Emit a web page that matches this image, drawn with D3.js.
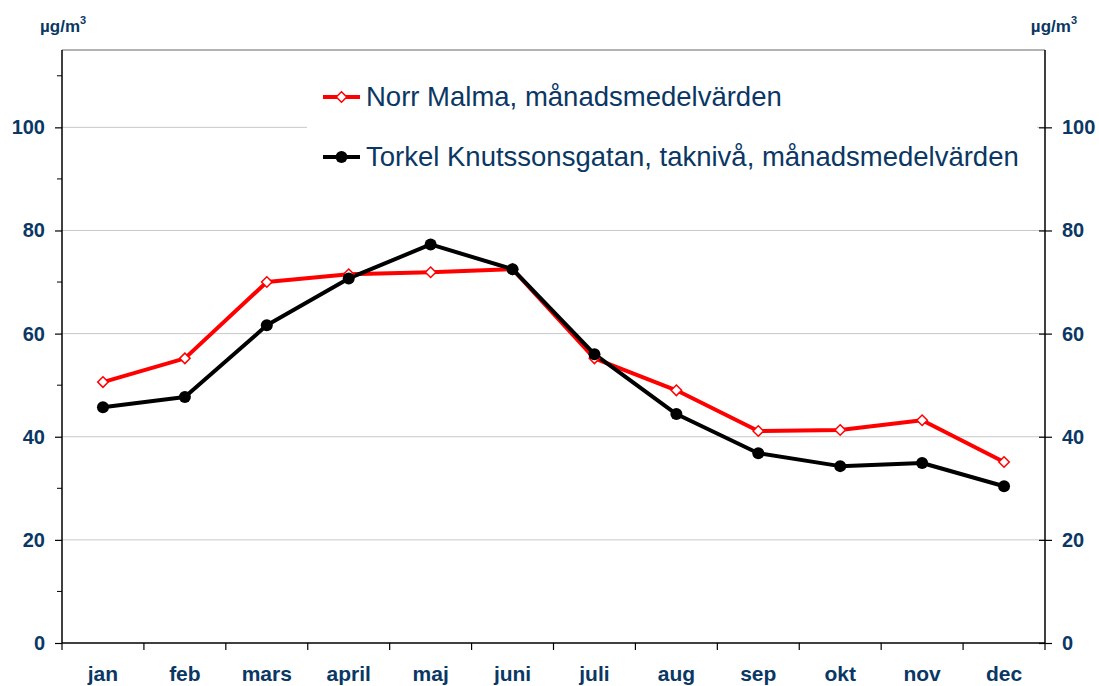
<!DOCTYPE html>
<html>
  <head>
    <meta charset="utf-8">
    <title>Månadsmedelvärden</title>
    <script src="https://d3js.org/d3.v7.min.js"></script>
    <style>
      body { margin: 0; background: #fff; overflow: hidden; }
      svg { display: block; }
      text { font-family: Arial, "Liberation Sans", sans-serif; }
    </style>
  </head>
  <body>
    <svg width="1099" height="686" id="mainsvg"></svg>
    <script>
        // data
        const months = ['jan', 'feb', 'mars', 'april', 'maj', 'juni', 'juli', 'aug', 'sep', 'okt', 'nov', 'dec'];
        const norrMalma = [50.6, 55.2, 70.0, 71.5, 71.9, 72.5, 55.2, 49.0, 41.1, 41.3, 43.2, 35.1];
        const torkel = [45.7, 47.7, 61.6, 70.7, 77.3, 72.5, 56.0, 44.4, 36.8, 34.3, 34.9, 30.4];
        const majorTicks = [0, 20, 40, 60, 80, 100];
        const minorTicks = [10, 30, 50, 70, 90, 110];
        const seriesNames = ['Norr Malma, månadsmedelvärden', 'Torkel Knutssonsgatan, taknivå, månadsmedelvärden'];

        const svg = d3.select('#mainsvg');
        const margin = {top: 50, right: 54, bottom: 43, left: 62};
        const width = +svg.attr('width');
        const height = +svg.attr('height');
        const innerWidth = width - margin.left - margin.right;
        const innerHeight = height - margin.top - margin.bottom;
        const textColor = '#0a3764';

        const xScale = d3.scaleBand().domain(months).range([0, innerWidth]).padding(0);
        const yScale = d3.scaleLinear().domain([0, 115]).range([innerHeight, 0]);

        const g = svg.append('g').attr('transform', `translate(${margin.left}, ${margin.top})`);

        // gridlines
        g.selectAll('.grid').data(majorTicks.slice(1)).join('line')
          .attr('x1', 0).attr('x2', innerWidth)
          .attr('y1', d => yScale(d)).attr('y2', d => yScale(d))
          .attr('stroke', '#c8c8c8').attr('stroke-width', 1);

        // top frame line
        g.append('line').attr('x1', 0).attr('x2', innerWidth).attr('y1', 0).attr('y2', 0)
          .attr('stroke', '#9a9a9a').attr('stroke-width', 1.5);

        // left axis
        const yLeft = g.append('g').call(d3.axisLeft(yScale).tickValues(majorTicks).tickSize(7).tickPadding(10));
        yLeft.append('g').selectAll('line').data(minorTicks).join('line')
          .attr('x1', -5).attr('x2', 0).attr('y1', d => yScale(d)).attr('y2', d => yScale(d))
          .attr('stroke', '#000');
        // right axis
        const yRight = g.append('g').attr('transform', `translate(${innerWidth},0)`)
          .call(d3.axisRight(yScale).tickValues(majorTicks).tickSize(7).tickPadding(10));
        yRight.selectAll('.tick line').attr('x1', -6);

        [yLeft, yRight].forEach(ax => {
          ax.select('.domain').attr('d', `M0,${innerHeight}V0`).attr('stroke', '#000').attr('stroke-width', 1.5);
          ax.selectAll('.tick line').attr('stroke', '#000').attr('stroke-width', 1.2);
          ax.selectAll('.tick text').attr('fill', textColor).attr('font-size', 20).attr('font-weight', 'bold')
            .attr('font-family', 'Arial, "Liberation Sans", sans-serif');
        });

        // bottom axis with ticks on band edges
        const xAxisGroup = g.append('g').attr('transform', `translate(0, ${innerHeight})`);
        xAxisGroup.append('line').attr('x1', 0).attr('x2', innerWidth).attr('stroke', '#000').attr('stroke-width', 1.5);
        const edges = months.map(m => xScale(m)).concat([innerWidth]);
        xAxisGroup.selectAll('.edge').data(edges).join('line')
          .attr('x1', d => d).attr('x2', d => d).attr('y1', 0).attr('y2', 7)
          .attr('stroke', '#000').attr('stroke-width', 1.2);
        xAxisGroup.selectAll('.mlabel').data(months).join('text')
          .attr('x', d => xScale(d) + xScale.bandwidth() / 2)
          .attr('y', 38)
          .attr('text-anchor', 'middle')
          .attr('fill', textColor).attr('font-size', 21).attr('font-weight', 'bold')
          .text(d => d);

        // unit labels
        [[40, 'start'], [1077, 'end']].forEach(([x, anchor]) => {
          const t = svg.append('text').attr('x', x).attr('y', 32).attr('text-anchor', anchor)
            .attr('fill', textColor).attr('font-size', 17).attr('font-weight', 'bold');
          t.append('tspan').text('µg/m');
          t.append('tspan').attr('font-size', 11).attr('dy', -8).text('3');
        });

        // lines
        const cx = (d, i) => xScale(months[i]) + xScale.bandwidth() / 2;
        const line = d3.line().x(cx).y(d => yScale(d));

        g.append('path').datum(norrMalma).attr('d', line)
          .attr('fill', 'none').attr('stroke', '#ff0000').attr('stroke-width', 4).attr('stroke-linejoin', 'round');
        g.append('path').datum(torkel).attr('d', line)
          .attr('fill', 'none').attr('stroke', '#000').attr('stroke-width', 4).attr('stroke-linejoin', 'round');

        const diamond = d3.symbol().type(d3.symbolDiamond2).size(70);
        g.selectAll('.red').data(norrMalma).join('path')
          .attr('transform', (d, i) => `translate(${cx(d, i)},${yScale(d)})`)
          .attr('d', diamond)
          .attr('fill', '#fff').attr('stroke', '#ff0000').attr('stroke-width', 1.5);
        g.selectAll('.blk').data(torkel).join('circle')
          .attr('cx', cx).attr('cy', d => yScale(d)).attr('r', 6)
          .attr('fill', '#000');

        // legend
        const legend = svg.append('g');
        legend.append('rect').attr('x', 307).attr('y', 66).attr('width', 730).attr('height', 120).attr('fill', '#fff');
        const legendY = [97, 157];
        seriesNames.forEach((name, i) => {
          const color = i === 0 ? '#ff0000' : '#000';
          legend.append('line').attr('x1', 323).attr('x2', 360).attr('y1', legendY[i]).attr('y2', legendY[i])
            .attr('stroke', color).attr('stroke-width', 4);
          if (i === 0) {
            legend.append('path').attr('transform', `translate(341.5,${legendY[i]})`).attr('d', diamond)
              .attr('fill', '#fff').attr('stroke', color).attr('stroke-width', 1.5);
          } else {
            legend.append('circle').attr('cx', 341.5).attr('cy', legendY[i]).attr('r', 6).attr('fill', color);
          }
          legend.append('text').attr('x', 366).attr('y', legendY[i] + 9)
            .attr('fill', textColor).attr('font-size', 27.5).text(name);
        });
    </script>
  </body>
</html>
